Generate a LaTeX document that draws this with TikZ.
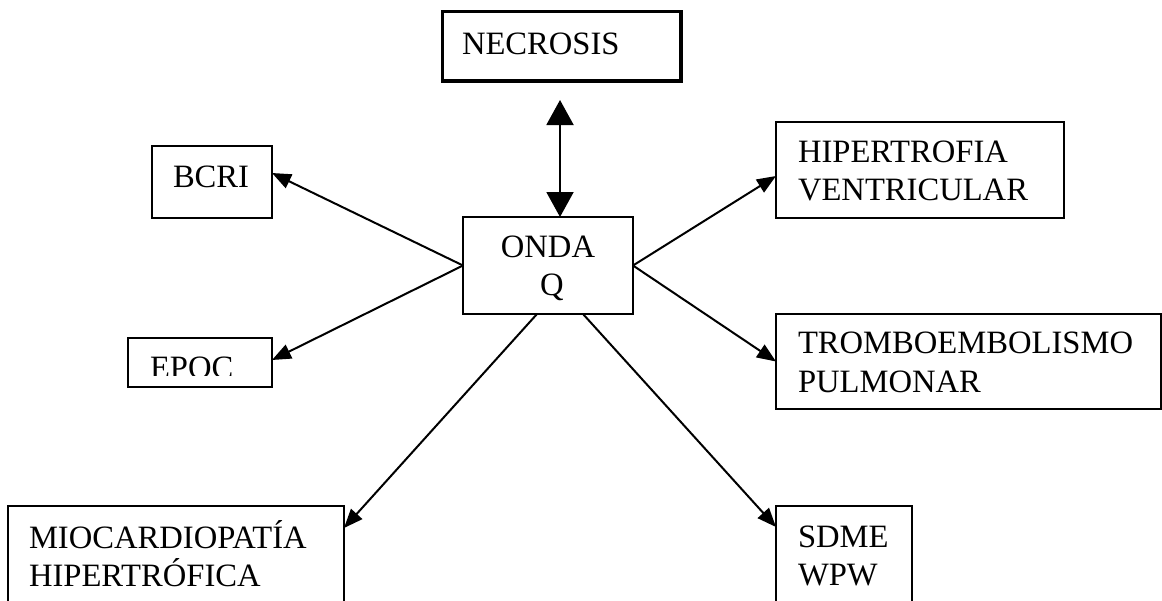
\documentclass[tikz,border=0pt]{standalone}
\usepackage{fontspec}
\setmainfont{Liberation Serif}
\usetikzlibrary{arrows.meta,calc}

\begin{document}
\begin{tikzpicture}[x=0.5pt,y=-0.5pt,
  box/.style={draw, rectangle, line width=1pt, inner sep=0pt, outer sep=0pt, anchor=north west},
  txt/.style={inner sep=0pt, outer sep=0pt, anchor=base west, font=\fontsize{16.3pt}{19.5pt}\selectfont},
  link/.style={line width=1pt, -{Triangle[length=9.5pt,width=7.5pt]}},
  twoway/.style={line width=1pt, {Triangle[length=12.5pt,width=13.5pt]}-{Triangle[length=12.5pt,width=13.5pt]}}]

\useasboundingbox (0,0) rectangle (1162,600);
\fill[white] (0,0) rectangle (1162,600);
\clip (0,0) rectangle (1162,600);

% boxes
\node[box, line width=1.65pt, minimum width=119.25pt, minimum height=34.75pt] (necrosis) at (442.5,11.5) {};
\node[box, minimum width=85pt,  minimum height=48.5pt] (onda)   at (463,217) {};
\node[box, minimum width=60pt,  minimum height=36pt]   (bcri)   at (152,146) {};
\node[box, minimum width=72pt,  minimum height=24.5pt] (epoc)   at (128,338) {};
\node[box, minimum width=144pt, minimum height=48pt]   (hiper)  at (776,122) {};
\node[box, minimum width=192.5pt, minimum height=47.5pt] (trombo) at (776,314) {};
\node[box, minimum width=168pt, minimum height=67pt]   (mio)    at (8,506) {};
\node[box, minimum width=68pt,  minimum height=67pt]   (sdme)   at (776,506) {};

% labels
\node[txt] (necrosis-t) at (462,54) {NECROSIS};
\node[txt, anchor=base] (onda-t1) at (548,257) {ONDA};
\node[txt, anchor=base] (onda-t2) at (552,295) {Q};
\node[txt] (bcri-t) at (173,187) {BCRI};
\begin{scope}
  \clip (129,339) rectangle (271,375);
  \node[txt] (epoc-t) at (150,378) {EPOC};
\end{scope}
\node[txt] (hiper-t1) at (798,162) {HIPERTROFIA};
\node[txt] (hiper-t2) at (798,200) {VENTRICULAR};
\node[txt] (trombo-t1) at (798,353) {TROMBOEMBOLISMO};
\node[txt] (trombo-t2) at (798,392) {PULMONAR};
\node[txt] (mio-t1) at (29,548) {MIOCARDIOPATÍA};
\node[txt] (mio-t2) at (29,586) {HIPERTRÓFICA};
\node[txt] (sdme-t1) at (798,547) {SDME};
\node[txt] (sdme-t2) at (798,585) {WPW};

% connectors
\coordinate (ntip) at (560,100);
\draw[twoway] (ntip) -- (ntip |- onda.north);
\draw[link] (onda.west) -- ([yshift=4.5pt]bcri.east);
\draw[link] (onda.west) -- ([yshift=1.25pt]epoc.east);
\draw[link] (onda.east) -- ([yshift=-3pt]hiper.west);
\draw[link] (onda.east) -- (trombo.west);
\draw[link] ([xshift=-5.5pt]onda.south) -- ([yshift=-11pt]mio.north east);
\draw[link] ([xshift=17.5pt]onda.south) -- ([yshift=-10.5pt]sdme.north west);
\end{tikzpicture}
\end{document}
